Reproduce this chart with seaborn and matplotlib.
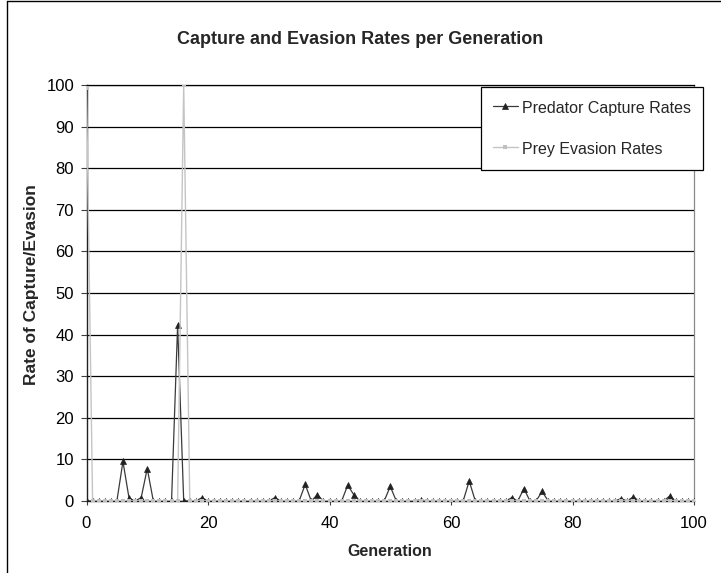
import matplotlib
matplotlib.use("Agg")
import matplotlib.pyplot as plt
from matplotlib.lines import Line2D
import seaborn as sns
import pandas as pd

# ---------------- data ----------------
generations = list(range(0, 101))

predator_capture = [
    0, 0, 0, 0, 0, 0, 9.5, 0.7, 0, 0.8,      # 0-9
    7.8, 0, 0, 0, 0, 42.3, 0, 0, 0, 0.8,     # 10-19
    0, 0, 0, 0, 0, 0, 0, 0, 0, 0,            # 20-29
    0, 0.8, 0, 0, 0, 0, 4.0, 0, 1.5, 0,      # 30-39
    0, 0, 0, 3.8, 1.5, 0, 0, 0, 0, 0,        # 40-49
    3.5, 0, 0, 0, 0, 0.3, 0, 0, 0, 0,        # 50-59
    0, 0, 0, 4.8, 0, 0, 0, 0, 0, 0,          # 60-69
    0.8, 0, 3.0, 0, 0, 2.3, 0, 0, 0, 0,      # 70-79
    0, 0, 0, 0, 0, 0, 0, 0, 0.6, 0,          # 80-89
    1.0, 0, 0, 0, 0, 0, 1.2, 0, 0, 0,        # 90-99
    0,                                       # 100
]

prey_evasion = [
    99.2, 0, 0, 0, 0, 0, 0, 0, 0, 0,         # 0-9
    0, 0, 0, 0, 0, 0, 100, 0, 0, 0,          # 10-19
    0, 0, 0, 0, 0, 0, 0, 0, 0, 0,            # 20-29
    0, 0, 0, 0, 0, 0, 0, 0, 0, 0,            # 30-39
    0, 0, 0, 0, 0, 0, 0, 0, 0, 0,            # 40-49
    0, 0, 0, 0, 0, 0, 0, 0, 0, 0,            # 50-59
    0, 0, 0, 0, 0, 0, 0, 0, 0, 0,            # 60-69
    0, 0, 0, 0, 0, 0, 0, 0, 0, 0,            # 70-79
    0, 0, 0, 0, 0, 0, 0, 0, 0, 0,            # 80-89
    0, 0, 0, 0, 0, 0, 0, 0, 0, 0,            # 90-99
    0,                                       # 100
]

series_labels = ["Predator Capture Rates", "Prey Evasion Rates"]
x_ticks = [0, 20, 40, 60, 80, 100]
y_ticks = [0, 10, 20, 30, 40, 50, 60, 70, 80, 90, 100]

title_text = "Capture and Evasion Rates per Generation"
x_label = "Generation"
y_label = "Rate of Capture/Evasion"

df = pd.DataFrame({
    "Generation": generations,
    "Predator": predator_capture,
    "Prey": prey_evasion,
})

# ---------------- style ----------------
sns.set_theme(style="white")
plt.rcParams["font.family"] = ["Liberation Sans", "DejaVu Sans"]

W, H = 721, 573
fig = plt.figure(figsize=(W / 100, H / 100), dpi=100)
fig.patch.set_facecolor("white")

left_px, right_px, top_px, bottom_px = 86.5, 694, 85, 501
ax = fig.add_axes([left_px / W, 1 - bottom_px / H,
                   (right_px - left_px) / W, (bottom_px - top_px) / H])
ax.set_facecolor("white")

ax.set_axisbelow(True)
ax.yaxis.grid(True, color="black", linewidth=0.9)
ax.xaxis.grid(False)

sns.lineplot(data=df, x="Generation", y="Predator", ax=ax,
             color="#3a3a3a", linewidth=0.9, marker="^", markersize=5,
             markerfacecolor="#222222", markeredgecolor="#222222",
             markeredgewidth=0.5, label=series_labels[0], zorder=3)
sns.lineplot(data=df, x="Generation", y="Prey", ax=ax,
             color="#c4c4c4", linewidth=1.0, marker="s", markersize=3.3,
             markerfacecolor="#c0c0c0", markeredgecolor="#c0c0c0",
             markeredgewidth=0.0, label=series_labels[1], zorder=4)

ax.set_xlim(0, 100)
ax.set_ylim(0, 100)
ax.set_xticks(x_ticks)
ax.set_yticks(y_ticks)

for side in ["left", "bottom"]:
    ax.spines[side].set_color("#202020")
    ax.spines[side].set_linewidth(1.0)
ax.spines["top"].set_color("black")
ax.spines["top"].set_linewidth(0.9)
ax.spines["right"].set_color("#888888")
ax.spines["right"].set_linewidth(0.9)

ax.tick_params(axis="y", direction="out", length=4, width=0.8, color="#404040",
               pad=5, labelsize=12, labelcolor="black", left=True)
ax.tick_params(axis="x", direction="out", length=3, width=0.8, color="#404040",
               pad=8, labelsize=12, labelcolor="black", bottom=True)

ax.set_xlabel("")
ax.set_ylabel("")
fig.text(390 / W, 1 - 552 / H, x_label, ha="center", va="center",
         fontsize=11.5, fontweight="bold")
fig.text(32 / W, 1 - 285 / H, y_label, ha="center", va="center",
         fontsize=12.5, fontweight="bold", rotation=90)
fig.text(360 / W, 1 - 40 / H, title_text, ha="center", va="center",
         fontsize=13, fontweight="bold")

leg = ax.legend(loc="upper left", bbox_to_anchor=(481 / W, 1 - 86.5 / H),
                bbox_transform=fig.transFigure, frameon=True, fancybox=False,
                fontsize=11.5, numpoints=1, handlelength=1.6, handletextpad=0.25,
                handleheight=1.5, labelspacing=1.35, borderpad=0.72,
                borderaxespad=0)
leg.get_frame().set_edgecolor("black")
leg.get_frame().set_linewidth(0.9)
leg.get_frame().set_facecolor("white")
leg.get_frame().set_alpha(1)
leg.set_zorder(10)

# outer chart border (left and top edges visible)
fig.add_artist(Line2D([7 / W, 7 / W], [0, 1 - 1 / H], transform=fig.transFigure,
                      color="black", linewidth=1.0))
fig.add_artist(Line2D([7 / W, 1], [1 - 1 / H, 1 - 1 / H], transform=fig.transFigure,
                      color="black", linewidth=1.0))

fig.savefig("out.png", dpi=100, facecolor="white")
